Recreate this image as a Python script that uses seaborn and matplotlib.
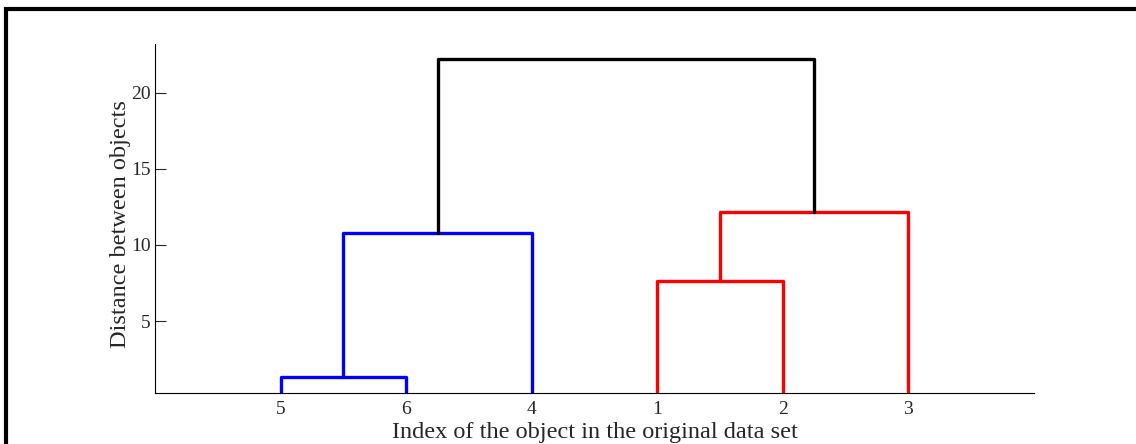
import pandas as pd
import matplotlib.pyplot as plt
import seaborn as sns
from matplotlib.patches import Rectangle

# Leaves in the order they appear along the x axis
leaves = ["5", "6", "4", "1", "2", "3"]

# Links of the tree (new nodes are numbered 7, 8, 9, ...)
merge_a = ["5", "7", "1", "9", "8"]
merge_b = ["6", "4", "2", "3", "10"]
merge_height = [1.30, 10.80, 7.63, 12.18, 22.21]
merge_color = ["blue", "blue", "red", "red", "black"]

yticks = [5, 10, 15, 20]

# Work out where each node sits
pos_x = {leaf: i + 1 for i, leaf in enumerate(leaves)}
pos_y = {leaf: 0.0 for leaf in leaves}
rows = []
for k, (a, b, h, c) in enumerate(zip(merge_a, merge_b, merge_height, merge_color)):
    node = str(len(leaves) + 1 + k)
    xs = [pos_x[a], pos_x[a], pos_x[b], pos_x[b]]
    ys = [pos_y[a], h, h, pos_y[b]]
    for step, (x, y) in enumerate(zip(xs, ys)):
        rows.append({"link": k, "step": step, "x": x, "y": y, "cluster": c})
    pos_x[node] = (pos_x[a] + pos_x[b]) / 2
    pos_y[node] = h

df = pd.DataFrame(rows)

sns.set_style("ticks")
plt.rcParams["font.family"] = ["Liberation Serif", "DejaVu Serif"]

fig = plt.figure(figsize=(11.36, 4.44), dpi=100)
ax = fig.add_axes([155 / 1136, 1 - 393 / 444, (1034 - 155) / 1136, (393 - 44) / 444])

sns.lineplot(
    data=df,
    x="x",
    y="y",
    units="link",
    hue="cluster",
    palette={"blue": "#0000ff", "red": "#ff0000", "black": "#000000"},
    estimator=None,
    sort=False,
    linewidth=2.4,
    legend=False,
    ax=ax,
)

ax.set_xlim(0, len(leaves) + 1)
ax.set_ylim(0.27, 23.2)
ax.set_xticks(range(1, len(leaves) + 1))
ax.set_xticklabels(leaves)
ax.set_yticks(yticks)
ax.tick_params(axis="y", direction="in", length=8, width=0.8, labelsize=14, pad=3)
ax.tick_params(axis="x", direction="in", length=0, labelsize=14, pad=6)
for s in ["top", "right"]:
    ax.spines[s].set_visible(False)
for s in ["left", "bottom"]:
    ax.spines[s].set_linewidth(0.8)
    ax.spines[s].set_color("black")

ax.set_xlabel("Index of the object in the original data set", fontsize=17.5, labelpad=2.5)
ax.set_ylabel("Distance between objects", fontsize=17.5)
ax.yaxis.set_label_coords(-0.027, 0.484)

# Thick frame around the figure (cut off at right and bottom)
fig.patches.append(Rectangle((6 / 1136, -0.5), 2, 0.5 + 1 - 9 / 444,
                             transform=fig.transFigure, fill=False,
                             linewidth=3, edgecolor="black"))

plt.savefig("out.png", dpi=100)
